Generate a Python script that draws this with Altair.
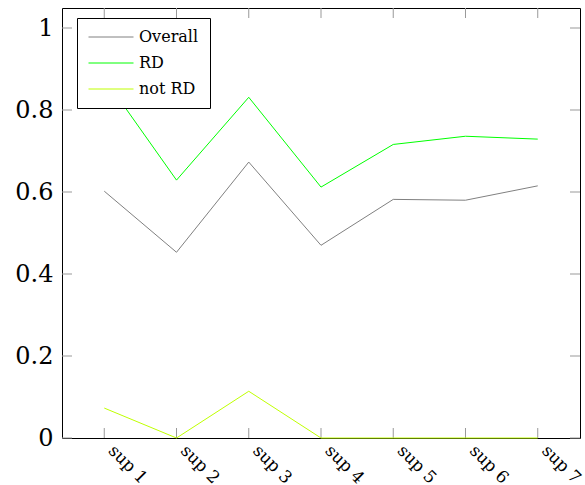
import altair as alt
import pandas as pd

cats = ["sup 1", "sup 2", "sup 3", "sup 4", "sup 5", "sup 6", "sup 7"]
overall = [0.602, 0.453, 0.673, 0.470, 0.582, 0.580, 0.615]
rd = [0.878, 0.629, 0.831, 0.612, 0.716, 0.736, 0.729]
not_rd = [0.073, 0.0, 0.114, 0.0, 0.0, 0.0, 0.0]
series = ["Overall", "RD", "not RD"]
colors = ["#808080", "#00ff00", "#bfff00"]
yticks = [0, 0.2, 0.4, 0.6, 0.8, 1.0]

rows = []
for name, vals in zip(series, [overall, rd, not_rd]):
    for c, v in zip(cats, vals):
        rows.append({"sup": c, "value": v, "series": name})
df = pd.DataFrame(rows)

W, H = 518, 430
FONT = "DejaVu Serif"

xscale = alt.Scale(type="point", domain=cats, padding=0.585)
yscale = alt.Scale(domain=[0, 1.0488], nice=False, zero=False)

lines = alt.Chart(df).mark_line(strokeWidth=1).encode(
    x=alt.X("sup:N", scale=xscale, sort=cats,
            axis=alt.Axis(title=None, ticks=False, domain=False, grid=False,
                          labelAngle=45, labelAlign="left", labelBaseline="top",
                          labelFont=FONT, labelFontSize=17, labelColor="black",
                          labelPadding=4, labelOffset=12)),
    y=alt.Y("value:Q", scale=yscale,
            axis=alt.Axis(title=None, ticks=False, domain=False, grid=False,
                          values=yticks, labelFont=FONT, labelFontSize=24,
                          labelColor="black", labelPadding=9,
                          labelExpr="datum.value == 0 ? '0' : datum.value == 1 ? '1' : format(datum.value, '.1f')")),
    color=alt.Color("series:N", scale=alt.Scale(domain=series, range=colors),
                    legend=alt.Legend(title=None, orient="none", legendX=15, legendY=10,
                                      symbolType="stroke", symbolSize=2025, symbolStrokeWidth=1,
                                      clipHeight=16,
                                      labelFont=FONT, labelFontSize=16, labelColor="black",
                                      labelOffset=5, padding=11, rowPadding=10,
                                      strokeColor="black", fillColor="white",
                                      cornerRadius=0)),
    detail="series:N",
)

xt = pd.DataFrame({"sup": cats})
yt = pd.DataFrame({"v": yticks})
tickc = "#999999"
xt_bot = alt.Chart(xt).mark_rule(color=tickc, strokeWidth=1).encode(
    x=alt.X("sup:N", scale=xscale, sort=cats), y=alt.value(H), y2=alt.value(H - 10))
xt_top = alt.Chart(xt).mark_rule(color=tickc, strokeWidth=1).encode(
    x=alt.X("sup:N", scale=xscale, sort=cats), y=alt.value(0), y2=alt.value(10))
yt_l = alt.Chart(yt).mark_rule(color=tickc, strokeWidth=1).encode(
    y=alt.Y("v:Q", scale=yscale), x=alt.value(0), x2=alt.value(10))
yt_r = alt.Chart(yt).mark_rule(color=tickc, strokeWidth=1).encode(
    y=alt.Y("v:Q", scale=yscale), x=alt.value(W), x2=alt.value(W - 10))

chart = alt.layer(xt_bot, xt_top, yt_l, yt_r, lines).properties(
    width=W, height=H,
    background="white",
    autosize=alt.AutoSizeParams(type="none"),
    padding={"left": 62, "top": 8, "right": 5, "bottom": 47},
).configure_view(stroke="black", strokeWidth=1)

chart.save("out.html", embed_options={"renderer": "svg", "actions": False})
